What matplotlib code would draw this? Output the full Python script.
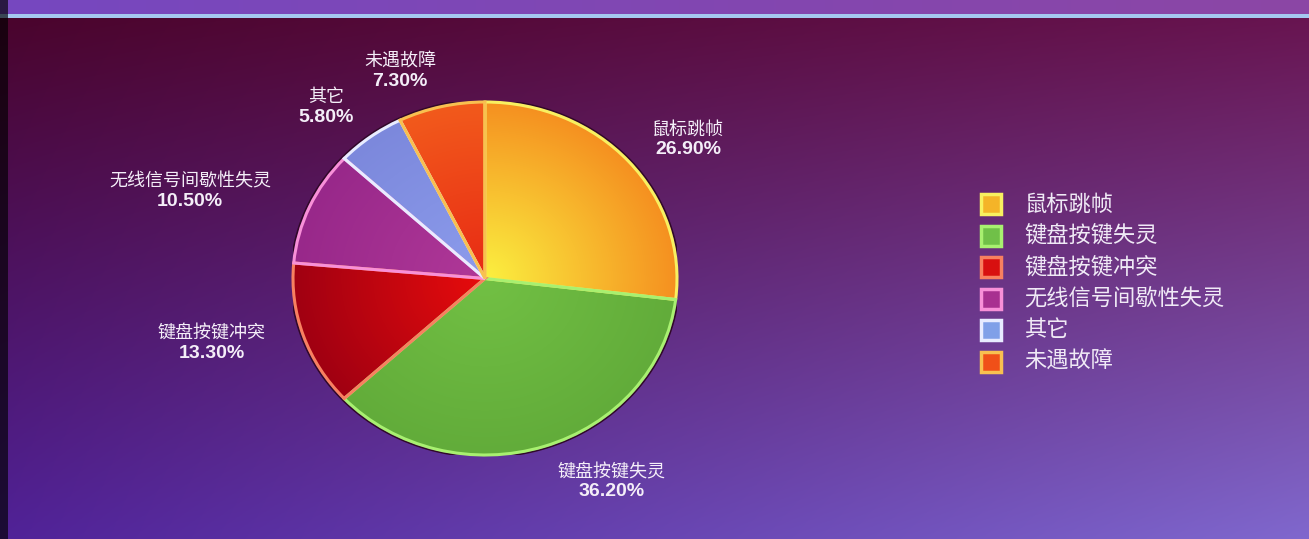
import numpy as np
import matplotlib
matplotlib.use("Agg")
from matplotlib import pyplot as plt
from matplotlib.patches import Rectangle

plt.rcParams['font.family'] = ['Noto Sans CJK SC', 'DejaVu Sans']

# Fault shares (%)
labels = ['鼠标跳帧', '键盘按键失灵', '键盘按键冲突', '无线信号间歇性失灵', '其它', '未遇故障']
shares = [26.9, 36.2, 13.3, 10.5, 5.8, 7.3]

# wedge styling: inner colour, outer colour, edge colour
inner_cols = ['#fbf040', '#72c044', '#e80c0c', '#b03898', '#8c9cec', '#e82a14']
outer_cols = ['#f59020', '#62ac3a', '#a00012', '#98288a', '#7c88dc', '#f25a1c']
edge_cols = ['#f8f060', '#a8f070', '#f88060', '#f890d8', '#e8ecff', '#f8c050']
legend_face = ['#f4b428', '#70c048', '#d81010', '#a83090', '#80a0e8', '#f05018']

# label anchor points in figure pixels (x, y from top)
label_pos = [(688, 140), (612, 482), (212, 343), (190, 191), (326, 107), (400, 72)]

W, H = 1309, 539
fig = plt.figure(figsize=(W / 100, H / 100), dpi=100)

# background gradient
bg = fig.add_axes([0, 0, 1, 1])
yy, xx = np.mgrid[0:H, 0:W]
u = xx / W
v = (yy - 16) / (H - 16)
tl = np.array([74, 4, 44])
tr = np.array([104, 20, 80])
bl = np.array([80, 34, 152])
br = np.array([128, 104, 206])
img = (tl * ((1 - u) * (1 - v))[..., None] + tr * (u * (1 - v))[..., None]
       + bl * ((1 - u) * v)[..., None] + br * (u * v)[..., None])
# top strip and blue rule
top = (yy < 14)
img[top] = (np.array([118, 72, 192]) * (1 - u[top])[:, None]
            + np.array([140, 70, 165]) * u[top][:, None])
rule = (yy >= 14) & (yy < 18)
img[rule] = [165, 200, 240]
img[:, :8] = img[:, :8] * 0.35
img = np.clip(img, 0, 255).astype(np.uint8)
bg.imshow(img, aspect='auto', extent=[0, W, H, 0])
bg.set_xlim(0, W)
bg.set_ylim(H, 0)
bg.axis('off')

# pie in its own axes, stretched slightly wide
ax = fig.add_axes([293 / W, 1 - 455 / H, 384 / W, 353 / H])
wedges, _ = ax.pie(shares, startangle=90, counterclock=False, radius=1,
                   wedgeprops=dict(linewidth=2.2))
ax.set_aspect('auto')
ax.set_xlim(-1.0, 1.0)
ax.set_ylim(-1.0, 1.0)

gy, gx = np.mgrid[1:-1:400j, -1:1:400j]
r = np.clip(np.hypot(gx, gy), 0, 1)[..., None]
for w, ci, co, ce in zip(wedges, inner_cols, outer_cols, edge_cols):
    ci = np.array(matplotlib.colors.to_rgb(ci))
    co = np.array(matplotlib.colors.to_rgb(co))
    grad = ci * (1 - r) + co * r
    im = ax.imshow(grad, extent=[-1, 1, -1, 1], aspect='auto', zorder=1)
    im.set_clip_path(w)
    w.set_facecolor('none')
    w.set_edgecolor(ce)
    w.set_zorder(2)

# outer dark rim
theta = np.linspace(0, 2 * np.pi, 400)
ax.plot(1.012 * np.cos(theta), 1.012 * np.sin(theta), color='#300828', lw=1.2, zorder=0)

# slice labels
for name, val, (px, py) in zip(labels, shares, label_pos):
    fig.text(px / W, 1 - (py - 10) / H, name, ha='center', va='center',
             color='#f4eef8', fontsize=13, fontweight='medium')
    fig.text(px / W, 1 - (py + 10) / H, f'{val:.2f}%', ha='center', va='center',
             color='#f4eef8', fontsize=14, fontweight='bold', family='Liberation Sans')

# legend
for i, (name, fc, ec) in enumerate(zip(labels, legend_face, edge_cols)):
    cy = 204 + i * 31.5
    fig.patches.append(Rectangle((981 / W, 1 - (cy + 10) / H), 20 / W, 20 / H,
                                 transform=fig.transFigure, facecolor=fc,
                                 edgecolor=ec, linewidth=2.5))
    fig.text(1024 / W, 1 - cy / H, name, ha='left', va='center',
             color='#f0eaf6', fontsize=16, fontweight='medium')

fig.savefig('out.png', dpi=100)
